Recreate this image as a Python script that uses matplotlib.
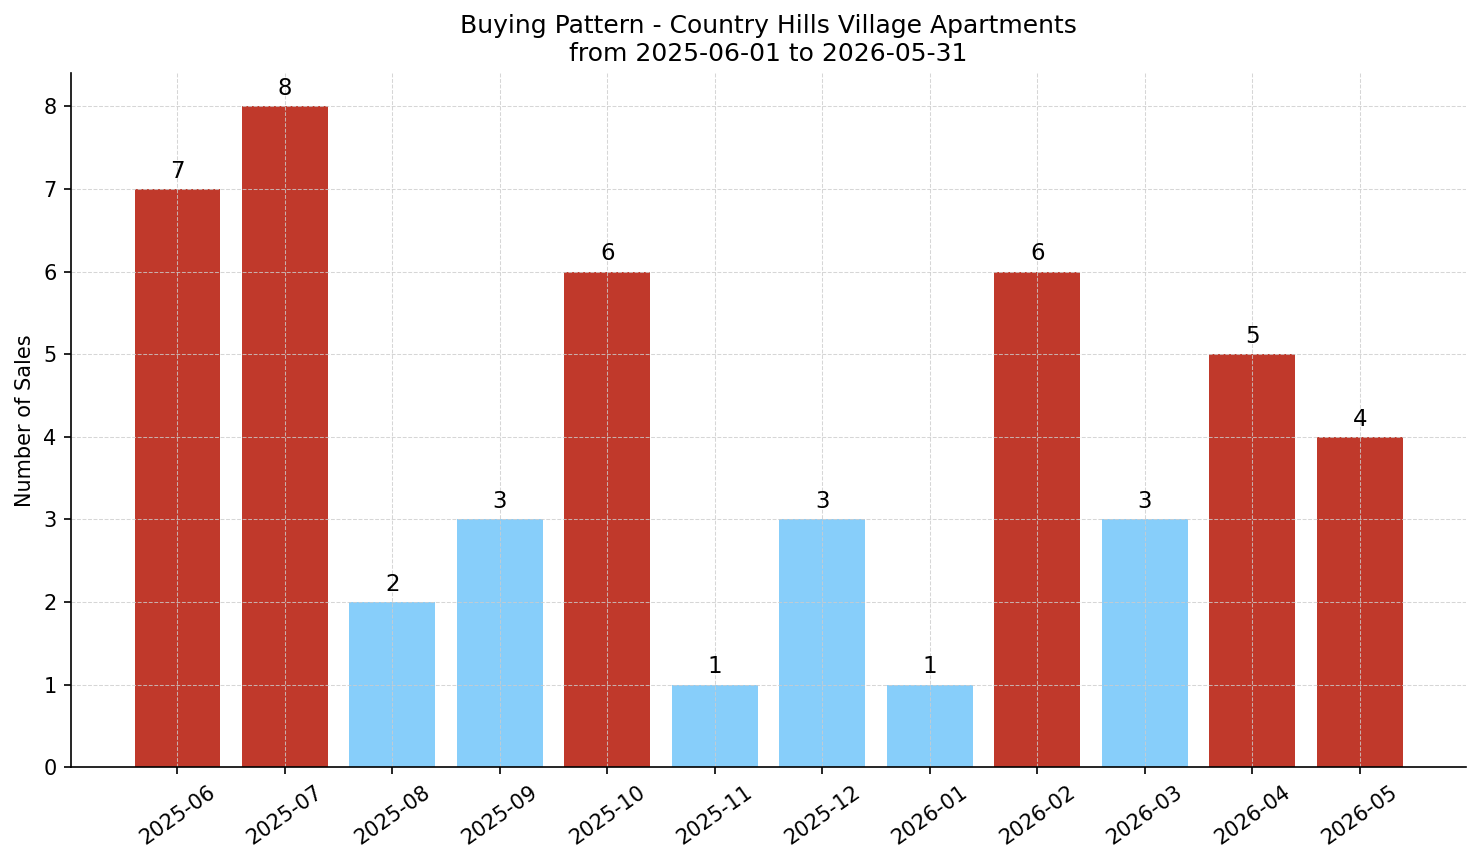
import matplotlib
matplotlib.use("Agg")
import matplotlib.pyplot as plt

# Données
mois = ["2025-06", "2025-07", "2025-08", "2025-09", "2025-10", "2025-11",
        "2025-12", "2026-01", "2026-02", "2026-03", "2026-04", "2026-05"]
ventes = [7, 8, 2, 3, 6, 1, 3, 1, 6, 3, 5, 4]
seuil = 4  # au-dessus ou égal -> rouge

rouge = "#c0392b"
bleu = "#87cefa"
couleurs = [rouge if v >= seuil else bleu for v in ventes]

fig, ax = plt.subplots(figsize=(1481 / 150, 863 / 150), dpi=150)
bars = ax.bar(mois, ventes, color=couleurs)
ax.bar_label(bars, padding=3, fontsize=11)

ax.set_title("Buying Pattern - Country Hills Village Apartments\nfrom 2025-06-01 to 2026-05-31",
             fontsize=12)
ax.set_ylabel("Number of Sales", fontsize=10)
ax.tick_params(axis="x", labelrotation=35, labelsize=10)
ax.tick_params(axis="y", labelsize=10)
ax.grid(True, linestyle="--", linewidth=0.5, color="#cccccc", alpha=0.8)
ax.spines["top"].set_visible(False)
ax.spines["right"].set_visible(False)

fig.subplots_adjust(left=0.048, right=0.99, top=0.915, bottom=0.111)
fig.savefig("out.png", dpi=150)
